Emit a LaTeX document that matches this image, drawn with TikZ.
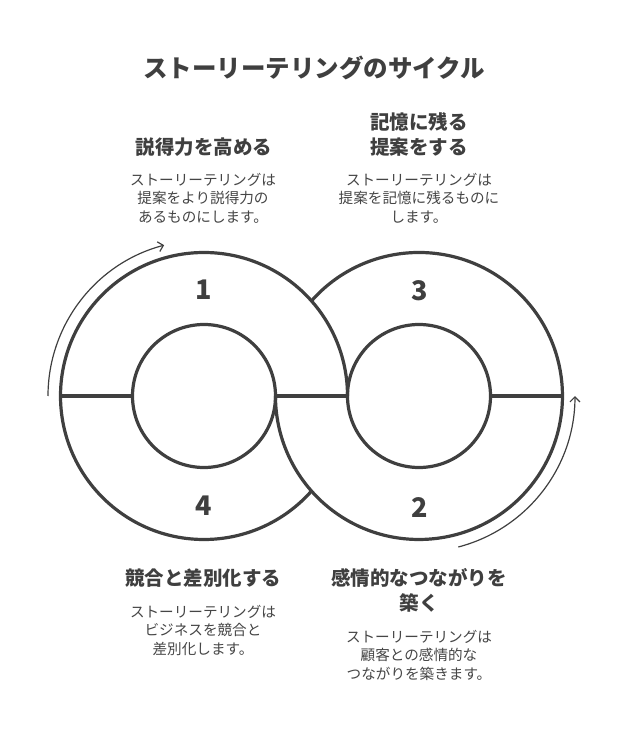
\documentclass[tikz,border=0pt]{standalone}
\usepackage{fontspec}
\setmainfont{Noto Sans CJK JP}
\usetikzlibrary{arrows.meta}
\definecolor{ink}{HTML}{3F3F3F}
\definecolor{bodyink}{HTML}{454545}
\begin{document}
\begin{tikzpicture}[x=1pt,y=1pt,
 ring/.style={draw=ink, line width=3.2pt},
 flow/.style={draw=ink, line width=1.2pt, -{Straight Barb[length=5pt,width=10pt]}},
 num/.style={font=\fontsize{27}{27}\selectfont\bfseries, text=ink},
 titletext/.style={font=\fontsize{24.5}{28}\selectfont\bfseries, text=ink},
 head/.style={font=\fontsize{19.5}{25}\selectfont\bfseries, text=ink, align=center},
 body/.style={font=\fontsize{14.6}{18.5}\selectfont, text=bodyink, align=center}]
\useasboundingbox (0,0) rectangle (624,732);
\coordinate (L) at (204,336);
\coordinate (R) at (419,336);
% outer arcs
\draw[ring] (347.5,336) arc[start angle=0,end angle=318.5,radius=143.5];
\draw[ring] (311.5,431.1) arc[start angle=138.5,end angle=-180,radius=143.5];
% inner circles
\draw[ring] (L) circle[radius=71.5];
\draw[ring] (R) circle[radius=71.5];
% dividers
\draw[ring] (60.5,336) -- (132.5,336);
\draw[ring] (275.5,336) -- (347.5,336);
\draw[ring] (490.5,336) -- (562.5,336);
% flow arrows
\draw[flow] (48,336) arc[start angle=180,end angle=104.8,radius=156];
\draw[flow] (458.3,185.0) arc[start angle=-75.4,end angle=0,radius=156];
% numbers
\node[num] (n1) at (204,442) {1};
\node[num] (n3) at (420,441) {3};
\node[num] (n4) at (204,226) {4};
\node[num] (n2) at (420,224) {2};
% texts
\node[titletext] (title) at (314,664) {ストーリーテリングのサイクル};
\node[head] (h1) at (204,585) {説得力を高める};
\node[body] (b1) at (203,534) {ストーリーテリングは\\提案をより説得力の\\あるものにします。};
\node[head] (h3) at (419,597.5) {記憶に残る\\提案をする};
\node[body] (b3) at (419,534) {ストーリーテリングは\\提案を記憶に残るものに\\します。};
\node[head] (h4) at (203,154) {競合と差別化する};
\node[body] (b4) at (203,102) {ストーリーテリングは\\ビジネスを競合と\\差別化します。};
\node[head] (h2) at (419,141.5) {感情的なつながりを\\築く};
\node[body] (b2) at (419,77) {ストーリーテリングは\\顧客との感情的な\\つながりを築きます。};
\end{tikzpicture}
\end{document}
